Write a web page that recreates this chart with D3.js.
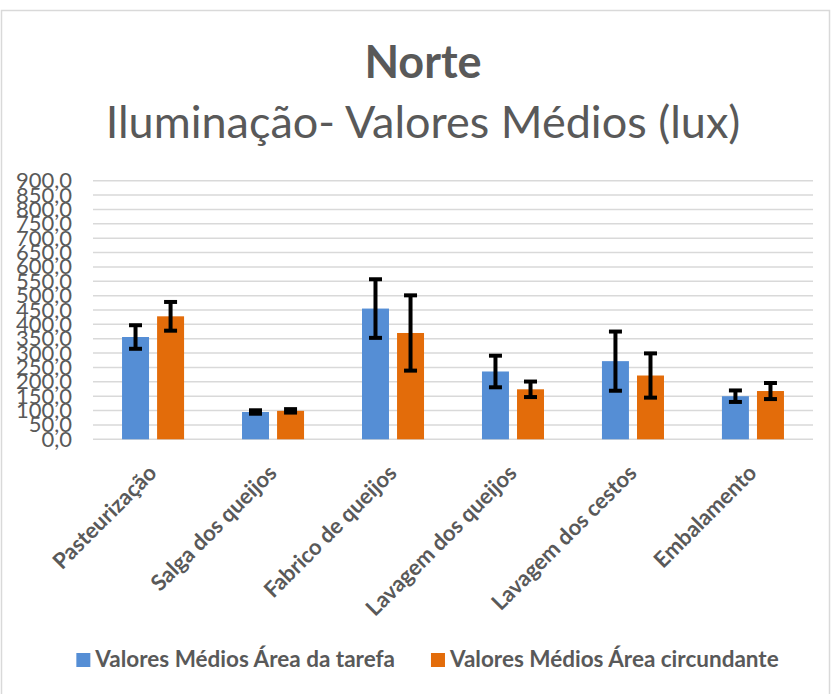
<!DOCTYPE html>
<html>
<head>
<meta charset="utf-8">
<script src="https://cdn.jsdelivr.net/npm/d3@7"></script>
<style>
  html, body { margin: 0; padding: 0; background: #ffffff; }
  svg { display: block; }
</style>
</head>
<body>
<svg id="chart" width="832" height="694"></svg>
<script>
const categories = ["Pasteurização", "Salga dos queijos", "Fabrico de queijos", "Lavagem dos queijos", "Lavagem dos cestos", "Embalamento"];
const seriesNames = ["Valores Médios Área da tarefa", "Valores Médios Área circundante"];
const tarefaValues = [356, 95, 455, 236, 272, 150];
const tarefaErrors = [41, 6, 102, 55, 103, 20];
const circundanteValues = [428, 99, 370, 174, 222, 168];
const circundanteErrors = [50, 6, 131, 27, 77, 28];
const yTicks = [0, 50, 100, 150, 200, 250, 300, 350, 400, 450, 500, 550, 600, 650, 700, 750, 800, 850, 900];
const titleText = "Norte";
const subtitleText = "Iluminação- Valores Médios (lux)";

const colors = ["#558ED5", "#E36C0A"];
const textColor = "#595959";
const font = "Lato, 'Open Sans', sans-serif";

const svg = d3.select("#chart");

// chart border
svg.append("rect")
  .attr("x", 1.5).attr("y", 10.5).attr("width", 828).attr("height", 700)
  .attr("fill", "#ffffff").attr("stroke", "#d9d9d9").attr("stroke-width", 1.5);

const plot = { left: 93, right: 813, top: 180.7, bottom: 439.3 };

const y = d3.scaleLinear().domain([0, 900]).range([plot.bottom, plot.top]);
const x0 = d3.scaleBand().domain(categories).range([plot.left, plot.right])
  .paddingInner(0.483).paddingOuter(0.242);
const x1 = d3.scaleBand().domain([0, 1]).range([0, x0.bandwidth()]).paddingInner(0.23);

// gridlines
svg.append("g")
  .selectAll("line").data(yTicks).join("line")
  .attr("x1", plot.left).attr("x2", plot.right)
  .attr("y1", d => y(d)).attr("y2", d => y(d))
  .attr("stroke", "#d9d9d9").attr("stroke-width", 1.5);

// y axis labels
const yAxis = d3.axisLeft(y).tickValues(yTicks).tickSize(0).tickPadding(0)
  .tickFormat(d => d3.format(".1f")(d).replace(".", ","));
const yg = svg.append("g").attr("transform", `translate(${plot.left - 21},0)`).call(yAxis);
yg.select(".domain").remove();
yg.selectAll("text").attr("fill", textColor).style("font-family", font).style("font-size", "22px");

const series = [
  { values: tarefaValues, errors: tarefaErrors },
  { values: circundanteValues, errors: circundanteErrors }
];

series.forEach((s, si) => {
  const g = svg.append("g");
  const data = categories.map((c, i) => ({ c, v: s.values[i], e: s.errors[i] }));
  g.selectAll("rect").data(data).join("rect")
    .attr("x", d => x0(d.c) + x1(si))
    .attr("width", x1.bandwidth())
    .attr("y", d => y(d.v))
    .attr("height", d => y(0) - y(d.v))
    .attr("fill", colors[si]);
});

// error bars
series.forEach((s, si) => {
  const g = svg.append("g").attr("stroke", "#000").attr("stroke-width", 4);
  const data = categories.map((c, i) => ({ c, v: s.values[i], e: s.errors[i] }));
  const cx = d => x0(d.c) + x1(si) + x1.bandwidth() / 2;
  g.selectAll("line.v").data(data).join("line").attr("class", "v")
    .attr("x1", cx).attr("x2", cx)
    .attr("y1", d => y(d.v + d.e)).attr("y2", d => y(d.v - d.e));
  g.selectAll("line.t").data(data).join("line").attr("class", "t")
    .attr("x1", d => cx(d) - 6.5).attr("x2", d => cx(d) + 6.5)
    .attr("y1", d => y(d.v + d.e)).attr("y2", d => y(d.v + d.e));
  g.selectAll("line.b").data(data).join("line").attr("class", "b")
    .attr("x1", d => cx(d) - 6.5).attr("x2", d => cx(d) + 6.5)
    .attr("y1", d => y(d.v - d.e)).attr("y2", d => y(d.v - d.e));
});

// x axis labels
svg.append("g").selectAll("text").data(categories).join("text")
  .attr("transform", d => `translate(${x0(d) + x0.bandwidth() / 2 + 5},${plot.bottom + 35}) rotate(-45)`)
  .attr("text-anchor", "end")
  .attr("fill", textColor)
  .style("font-family", font).style("font-size", "22px").style("font-weight", "bold")
  .text(d => d);

// title
svg.append("text").attr("x", 423).attr("y", 78).attr("text-anchor", "middle")
  .attr("fill", textColor).style("font-family", font).style("font-size", "45px").style("font-weight", "bold")
  .text(titleText);
svg.append("text").attr("x", 423).attr("y", 138).attr("text-anchor", "middle")
  .attr("fill", textColor).style("font-family", font).style("font-size", "45px")
  .text(subtitleText);

// legend
const legend = svg.append("g");
let lx = 0;
seriesNames.forEach((name, i) => {
  const item = legend.append("g");
  item.append("rect").attr("x", 0).attr("y", -14).attr("width", 14).attr("height", 14).attr("fill", colors[i]);
  const t = item.append("text").attr("x", 19).attr("y", 0)
    .attr("fill", textColor).style("font-family", font).style("font-size", "22.5px").style("font-weight", "bold")
    .text(name);
  const w = 19 + t.node().getComputedTextLength();
  item.attr("transform", `translate(${lx},0)`);
  lx += w + 36;
});
const totalW = lx - 36;
legend.attr("transform", `translate(${427.5 - totalW / 2},667)`);
</script>
</body>
</html>
